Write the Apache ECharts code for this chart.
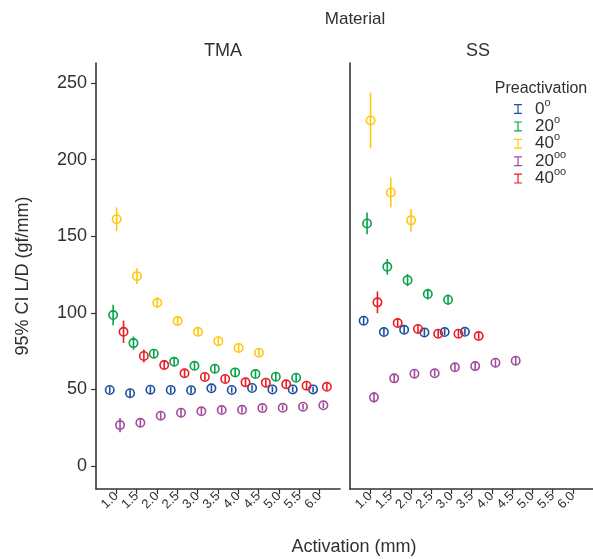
<!DOCTYPE html>
<html>
<head>
<meta charset="utf-8">
<script src="https://cdn.jsdelivr.net/npm/echarts@6/dist/echarts.min.js"></script>
<style>
html,body{margin:0;padding:0;background:#fff;}
#chart{width:593px;height:559px;}
</style>
</head>
<body>
<div id="chart"></div>
<script>
// ---- data ----
const activation = [1.0, 1.5, 2.0, 2.5, 3.0, 3.5, 4.0, 4.5, 5.0, 5.5, 6.0];
const yTicks = [0, 50, 100, 150, 200, 250];
const groups = ['0°', '20°', '40°', '20°°', '40°°'];

// TMA means / CI half-widths
const tma0 = [49.6, 47.5, 49.8, 49.6, 49.5, 50.7, 49.6, 50.9, 50.0, 50.0, 50.0];
const tma0Err = [2.2, 2.4, 2.2, 2.0, 2.0, 2.0, 1.8, 1.8, 1.8, 1.8, 1.8];
const tma20 = [98.5, 80.2, 73.3, 68.0, 65.4, 63.5, 61.1, 60.0, 58.3, 57.6];
const tma20Err = [6.7, 4.3, 2.8, 2.6, 2.5, 2.5, 2.4, 2.4, 2.4, 2.4];
const tma40 = [161.1, 123.9, 106.5, 94.6, 87.6, 81.5, 77.0, 73.9];
const tma40Err = [7.7, 5.2, 3.5, 3.0, 2.8, 2.6, 2.5, 2.5];
const tma20oo = [26.7, 28.2, 32.8, 34.8, 35.7, 36.5, 36.7, 37.8, 38.0, 38.7, 39.6];
const tma20ooErr = [4.6, 3.0, 2.6, 2.4, 2.3, 2.2, 2.0, 1.8, 1.8, 1.8, 1.8];
const tma40oo = [87.6, 71.8, 65.9, 60.5, 58.1, 56.8, 54.6, 54.4, 53.3, 52.4, 51.7];
const tma40ooErr = [7.3, 4.3, 2.8, 2.6, 2.5, 2.4, 2.4, 2.3, 2.3, 2.3, 2.3];

// SS means / CI half-widths
const ss0 = [94.8, 87.4, 88.9, 87.2, 87.4, 87.6];
const ss0Err = [2.6, 2.2, 2.4, 2.2, 2.0, 2.0];
const ss20 = [158.3, 130.0, 121.3, 112.2, 108.5];
const ss20Err = [7.1, 5.1, 4.0, 3.5, 3.5];
const ss40 = [225.5, 178.5, 160.3];
const ss40Err = [18.2, 9.8, 7.4];
const ss20oo = [44.8, 57.2, 60.2, 60.5, 64.4, 65.2, 67.4, 68.7];
const ss20ooErr = [3.5, 3.0, 2.8, 2.0, 2.6, 2.8, 3.0, 3.0];
const ss40oo = [106.8, 93.3, 89.4, 86.3, 86.3, 84.8];
const ss40ooErr = [7.1, 3.0, 2.8, 2.5, 2.5, 2.5];

// ---- styling ----
const colors = ['#1c4f9f', '#07a14c', '#fdc80d', '#a24d9a', '#ec1c26'];
const dodge = [-6.6, -3.2, 0.3, 3.7, 7.2];
const axisColor = '#333333';
const textColor = '#303030';
const FONT = '"Liberation Sans", Arial, sans-serif';

const panels = [
  [[tma0, tma0Err], [tma20, tma20Err], [tma40, tma40Err], [tma20oo, tma20ooErr], [tma40oo, tma40ooErr]],
  [[ss0, ss0Err], [ss20, ss20Err], [ss40, ss40Err], [ss20oo, ss20ooErr], [ss40oo, ss40ooErr]]
];

function makeRender(color, off) {
  return function (params, api) {
    const x = api.value(0), m = api.value(1), e = api.value(2);
    const c = api.coord([x, m]);
    const t = api.coord([x, m + e]);
    const b = api.coord([x, m - e]);
    const cx = c[0] + off;
    return {
      type: 'group',
      children: [
        { type: 'circle', shape: { cx: cx, cy: c[1], r: 4.2 },
          style: { fill: 'none', stroke: color, lineWidth: 1.6 } },
        { type: 'line', shape: { x1: cx, y1: t[1], x2: cx, y2: b[1] },
          style: { stroke: color, lineWidth: 1.6 } }
      ]
    };
  };
}

const series = [];
panels.forEach(function (panel, pi) {
  panel.forEach(function (g, gi) {
    const means = g[0], errs = g[1];
    series.push({
      type: 'custom',
      name: groups[gi],
      xAxisIndex: pi,
      yAxisIndex: pi,
      itemStyle: { color: colors[gi] },
      renderItem: makeRender(colors[gi], dodge[gi]),
      data: means.map(function (v, i) { return [activation[i], v, errs[i]]; }),
      silent: true,
      animation: false
    });
  });
});

function xAxisDef(gi) {
  return {
    type: 'value', gridIndex: gi, min: 0.5, max: 6.5,
    axisLine: { show: true, onZero: false, lineStyle: { color: axisColor, width: 1.6 } },
    axisTick: { show: true, customValues: activation, length: 5, lineStyle: { color: axisColor, width: 1.2 } },
    axisLabel: { customValues: activation, formatter: function (v) { return v.toFixed(1); },
      rotate: 45, fontSize: 13, color: textColor, fontFamily: FONT, margin: 5 },
    splitLine: { show: false }
  };
}

const option = {
  backgroundColor: '#ffffff',
  animation: false,
  textStyle: { fontFamily: FONT },
  title: [
    { text: 'Material', left: 350, top: 6, textAlign: 'center',
      textStyle: { fontSize: 17, fontWeight: 'normal', color: textColor, fontFamily: FONT } },
    { text: 'TMA', left: 218, top: 37, textAlign: 'center',
      textStyle: { fontSize: 18, fontWeight: 'normal', color: textColor, fontFamily: FONT } },
    { text: 'SS', left: 473, top: 37, textAlign: 'center',
      textStyle: { fontSize: 18, fontWeight: 'normal', color: textColor, fontFamily: FONT } },
    { text: 'Preactivation', left: 536, top: 76, textAlign: 'center',
      textStyle: { fontSize: 16, fontWeight: 'normal', color: textColor, fontFamily: FONT } },
    { text: 'Activation (mm)', left: 349, top: 533, textAlign: 'center',
      textStyle: { fontSize: 18, fontWeight: 'normal', color: textColor, fontFamily: FONT } }
  ],
  legend: {
    orient: 'vertical', left: 509, top: 92,
    itemWidth: 8, itemHeight: 10, itemGap: -3.1,
    icon: 'path://M0,0H16V2.4H9.2V17.6H16V20H0V17.6H6.8V2.4H0Z',
    data: groups,
    formatter: function (name) {
      const m = name.match(/^(\d+)(°+)$/);
      return '{n|' + m[1] + '}{s|' + 'o'.repeat(m[2].length) + '}';
    },
    textStyle: {
      color: textColor, fontFamily: FONT, padding: [0, 0, 0, 8],
      rich: {
        n: { fontSize: 17, lineHeight: 24, color: textColor, fontFamily: FONT, verticalAlign: 'middle' },
        s: { fontSize: 11, lineHeight: 8, color: textColor, fontFamily: FONT, verticalAlign: 'top' }
      }
    },
    selectedMode: false
  },
  grid: [
    { left: 96, top: 63, width: 244, height: 426 },
    { left: 350, top: 63, width: 244, height: 426 }
  ],
  xAxis: [xAxisDef(0), xAxisDef(1)],
  yAxis: [
    { type: 'value', gridIndex: 0, min: -15, max: 263,
      axisLine: { show: true, lineStyle: { color: axisColor, width: 1.6 } },
      axisTick: { show: true, customValues: yTicks, length: 5, lineStyle: { color: axisColor, width: 1.2 } },
      axisLabel: { customValues: yTicks, fontSize: 18, color: textColor, fontFamily: FONT, margin: 9 },
      splitLine: { show: false },
      name: '95% CI L/D (gf/mm)', nameLocation: 'middle', nameGap: 64,
      nameTextStyle: { fontSize: 18, color: textColor, fontFamily: FONT } },
    { type: 'value', gridIndex: 1, min: -15, max: 263,
      axisLine: { show: true, lineStyle: { color: axisColor, width: 1.6 } },
      axisTick: { show: false }, axisLabel: { show: false },
      splitLine: { show: false } }
  ],
  series: series
};

const chart = echarts.init(document.getElementById('chart'), null, { renderer: 'canvas' });
chart.setOption(option);
</script>
</body>
</html>
